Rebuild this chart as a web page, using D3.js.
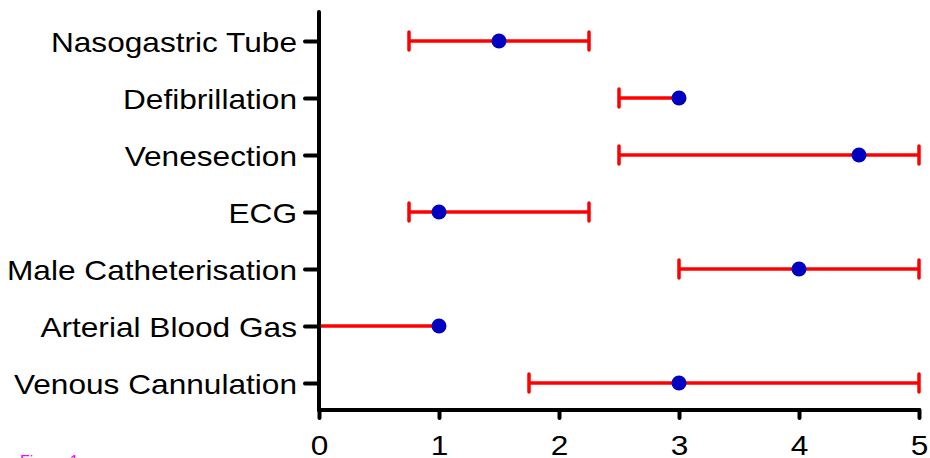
<!DOCTYPE html>
<html><head><meta charset="utf-8">
<script src="https://cdn.jsdelivr.net/npm/d3@7"></script>
<style>body{margin:0;background:#fff}svg{display:block}</style>
</head><body>
<script>
const categories = ["Nasogastric Tube","Defibrillation","Venesection","ECG","Male Catheterisation","Arterial Blood Gas","Venous Cannulation"];
const centers = [1.5, 3.0, 4.5, 1.0, 4.0, 1.0, 3.0];
const lows    = [0.75, 2.5, 2.5, 0.75, 3.0, 0.0, 1.75];
const highs   = [2.25, 3.0, 5.0, 2.25, 5.0, 1.0, 5.0];
const xTicks  = [0,1,2,3,4,5];

const W=930,H=458;
const svg=d3.select("body").append("svg").attr("width",W).attr("height",H);
const x=d3.scaleLinear().domain([0,5]).range([319,919]);
const y=d3.scalePoint().domain(categories).range([41,383]);
const font="Liberation Sans, Arial, Helvetica, sans-serif";
const SX=1.13;

// error bars
const g=svg.append("g");
categories.forEach((c,i)=>{
  const cy=y(c);
  g.append("line").attr("x1",x(lows[i])).attr("x2",x(highs[i])).attr("y1",cy).attr("y2",cy)
    .attr("stroke","#ff0000").attr("stroke-width",3.5);
  [lows[i],highs[i]].forEach(v=>{
    if(v!==centers[i]) g.append("line").attr("x1",x(v)).attr("x2",x(v)).attr("y1",cy-9).attr("y2",cy+9)
      .attr("stroke","#ff0000").attr("stroke-width",3.5).attr("stroke-linecap","round");
  });
});
// points
svg.append("g").selectAll("circle").data(categories).join("circle")
  .attr("cx",(d,i)=>x(centers[i])).attr("cy",d=>y(d)).attr("r",7.5).attr("fill","#0000c0");

// axes
const xa=svg.append("g").attr("transform","translate(0,410)")
  .call(d3.axisBottom(x).tickValues(xTicks).tickSize(8).tickFormat(d3.format("d")));
xa.select(".domain").attr("d",`M${x(0)},0H${x(5)}`).attr("stroke","#000").attr("stroke-width",4).attr("stroke-linecap","round");
xa.selectAll(".tick line").attr("stroke","#000").attr("stroke-width",4).attr("stroke-linecap","round");
xa.selectAll(".tick text").attr("font-family",font).attr("font-size",28).attr("fill","#000")
  .attr("y",null).attr("dy",null).attr("dominant-baseline",null)
  .attr("transform",`translate(0,44.5) scale(${SX},1)`);

const ya=svg.append("g").attr("transform","translate(319,0)")
  .call(d3.axisLeft(y).tickSize(14));
ya.select(".domain").attr("d","M0,12V410").attr("stroke","#000").attr("stroke-width",4).attr("stroke-linecap","round");
ya.selectAll(".tick line").attr("stroke","#000").attr("stroke-width",4).attr("stroke-linecap","round");
ya.selectAll(".tick text").attr("font-family",font).attr("font-size",28).attr("fill","#000")
  .attr("x",null).attr("dy",null).attr("y",null)
  .attr("transform",`translate(-22,10) scale(${SX},1)`);

svg.append("text").attr("x",20).attr("y",467).attr("font-family",font).attr("font-size",16)
  .attr("fill","#ff00ff").text("Figure 1");
</script>
</body></html>
